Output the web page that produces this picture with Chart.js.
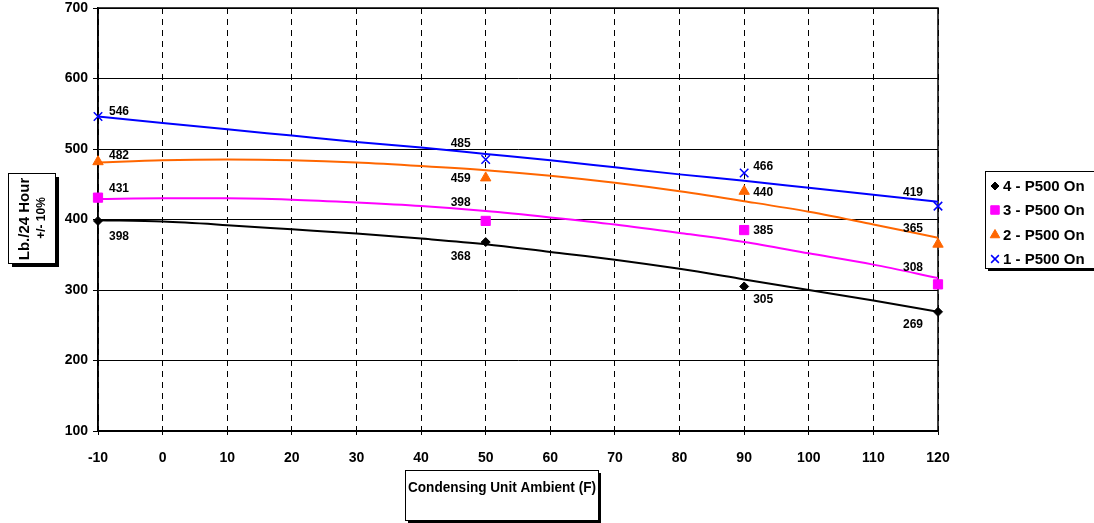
<!DOCTYPE html>
<html>
<head>
<meta charset="utf-8">
<script src="https://cdn.jsdelivr.net/npm/chart.js@4.4.0/dist/chart.umd.min.js"></script>
<style>
  html, body { margin: 0; padding: 0; background: #fff; }
</style>
</head>
<body>
<canvas id="grafico" width="1094" height="523"></canvas>
<script>
// dados
const temperaturas = [-10, 50, 90, 120];
const serie4 = [398, 368, 305, 269];
const serie3 = [431, 398, 385, 308];
const serie2 = [482, 459, 440, 365];
const serie1 = [546, 485, 466, 419];
const nomes = ["4 - P500 On", "3 - P500 On", "2 - P500 On", "1 - P500 On"];

// linhas de tendencia
const xTendencia = [-10, 0, 10, 20, 30, 40, 50, 60, 70, 80, 90, 100, 110, 120];
const tend4 = [399, 397, 392, 386, 380, 373, 365, 354, 343, 330, 315, 300, 285, 269];
const tend3 = [429, 430, 430, 428, 424, 419, 412, 403, 393, 381, 368, 352, 336, 317];
const tend2 = [481, 484, 485, 484, 481, 476, 470, 462, 452, 440, 426, 411, 393, 374];
const tend1 = [546, 537, 528, 519, 510, 502, 493, 484, 474, 464, 455, 445, 435, 425];

const yTicks = [100, 200, 300, 400, 500, 600, 700];

const fonte = '"Liberation Sans", Arial, sans-serif';
const cores = ["#000000", "#FF00FF", "#FF6600", "#0000FF"];
const estilos = ["rectRot", "rect", "triangle", "crossRot"];
const raios = [4.5, 6.5, 6, 6];

// deslocamento dos rotulos (px) em relacao ao ponto
const deslocamentos = [
  [[21, 16], [-25, 15], [19, 13], [-25, 13]],
  [[21, -9], [-25, -18], [19, 1], [-25, -17]],
  [[21, -6], [-25, 1], [19, 1], [-25, -15]],
  [[21, -5], [-25, -16], [19, -6], [-25, -13]]
];

function pontos(xs, ys) {
  return xs.map((x, i) => ({ x: x, y: ys[i] }));
}

const series = [serie4, serie3, serie2, serie1];
const tendencias = [tend4, tend3, tend2, tend1];

const datasets = [];
series.forEach((s, i) => {
  datasets.push({
    label: nomes[i],
    data: pontos(temperaturas, s),
    showLine: false,
    clip: false,
    pointStyle: estilos[i],
    pointRadius: raios[i],
    pointBackgroundColor: cores[i],
    pointBorderColor: cores[i],
    pointBorderWidth: i === 3 ? 1.5 : 1,
    order: 0
  });
});
tendencias.forEach((t, i) => {
  datasets.push({
    label: "tendencia " + nomes[i],
    data: pontos(xTendencia, t),
    showLine: true,
    borderColor: cores[i],
    borderWidth: 2,
    pointRadius: 0,
    cubicInterpolationMode: "monotone",
    fill: false,
    order: 1
  });
});

function caixa(ctx, x, y, w, h, sombra) {
  ctx.fillStyle = "#000";
  ctx.fillRect(x + sombra, y + sombra, w, h);
  ctx.fillStyle = "#fff";
  ctx.fillRect(x, y, w, h);
  ctx.strokeStyle = "#000";
  ctx.lineWidth = 1;
  ctx.strokeRect(x + 0.5, y + 0.5, w, h);
}

// texto com largura maxima (comprime se passar)
function textoAjustado(ctx, txt, x, y, largura) {
  const w = ctx.measureText(txt).width;
  ctx.save();
  ctx.translate(x, y);
  if (w > largura) ctx.scale(largura / w, 1);
  ctx.fillText(txt, 0, 0);
  ctx.restore();
}

const extras = {
  id: "extras",
  beforeDatasetsDraw(chart) {
    const { ctx, chartArea: a } = chart;
    ctx.save();
    ctx.strokeStyle = "#000";
    ctx.lineWidth = 1.5;
    ctx.strokeRect(a.left, a.top, a.right - a.left, a.bottom - a.top);
    ctx.restore();
  },
  afterDraw(chart) {
    const ctx = chart.ctx;
    ctx.save();
    // rotulos dos pontos
    ctx.font = "bold 12px " + fonte;
    ctx.fillStyle = "#000";
    ctx.textAlign = "center";
    ctx.textBaseline = "middle";
    series.forEach((s, i) => {
      const meta = chart.getDatasetMeta(i);
      meta.data.forEach((p, j) => {
        const d = deslocamentos[i][j];
        ctx.fillText(String(s[j]), p.x + d[0], p.y + d[1]);
      });
    });

    // legenda
    caixa(ctx, 985, 171, 110, 97, 3);
    ctx.font = "bold 15px " + fonte;
    ctx.textAlign = "left";
    const ys = [186, 210, 235, 259];
    nomes.forEach((n, i) => {
      ctx.fillStyle = cores[i];
      ctx.strokeStyle = cores[i];
      ctx.lineWidth = i === 3 ? 1.5 : 1;
      Chart.helpers.drawPoint(ctx, { pointStyle: estilos[i], radius: raios[i] - 0.5, rotation: 0, borderWidth: ctx.lineWidth }, 995, ys[i]);
      ctx.fillStyle = "#000";
      ctx.fillText(n, 1003, ys[i] + 1);
    });

    // titulo do eixo y
    caixa(ctx, 8, 173, 47, 90, 4);
    ctx.save();
    ctx.translate(25, 219);
    ctx.rotate(-Math.PI / 2);
    ctx.textAlign = "center";
    ctx.fillStyle = "#000";
    ctx.font = "bold 15px " + fonte;
    ctx.fillText("Lb./24 Hour", 0, 0);
    ctx.restore();
    ctx.save();
    ctx.translate(42, 218);
    ctx.rotate(-Math.PI / 2);
    ctx.textAlign = "center";
    ctx.fillStyle = "#000";
    ctx.font = "bold 12px " + fonte;
    ctx.fillText("+/- 10%", 0, 0);
    ctx.restore();

    // titulo do eixo x
    caixa(ctx, 405, 470, 193, 50, 3);
    ctx.fillStyle = "#000";
    ctx.font = "bold 14px " + fonte;
    ctx.textAlign = "left";
    textoAjustado(ctx, "Condensing Unit Ambient (F)", 408, 488, 188);
    ctx.restore();
  }
};

new Chart(document.getElementById("grafico"), {
  type: "scatter",
  data: { datasets: datasets },
  plugins: [extras],
  options: {
    responsive: false,
    animation: false,
    layout: { padding: { top: 8, right: 156, left: 0, bottom: 0 } },
    plugins: {
      legend: { display: false },
      tooltip: { enabled: false }
    },
    scales: {
      x: {
        type: "linear",
        min: -10,
        max: 120,
        ticks: {
          stepSize: 10,
          color: "#000",
          padding: 15,
          font: { family: fonte, size: 14, weight: "bold" }
        },
        grid: { color: "#000", lineWidth: 1, tickLength: 4, tickBorderDash: [] },
        border: { color: "#000", width: 1.5, dash: [6, 5] },
        afterFit(scale) { scale.height = 92; }
      },
      y: {
        min: 100,
        max: 700,
        afterBuildTicks(scale) { scale.ticks = yTicks.map(v => ({ value: v })); },
        ticks: {
          color: "#000",
          padding: 5,
          font: { family: fonte, size: 14, weight: "bold" }
        },
        grid: { color: "#000", lineWidth: 1, tickLength: 5 },
        border: { color: "#000", width: 1.5 },
        afterFit(scale) {
          scale.width = 98;
          scale.paddingTop = 0;
          scale.paddingBottom = 0;
        }
      }
    }
  }
});
</script>
</body>
</html>
